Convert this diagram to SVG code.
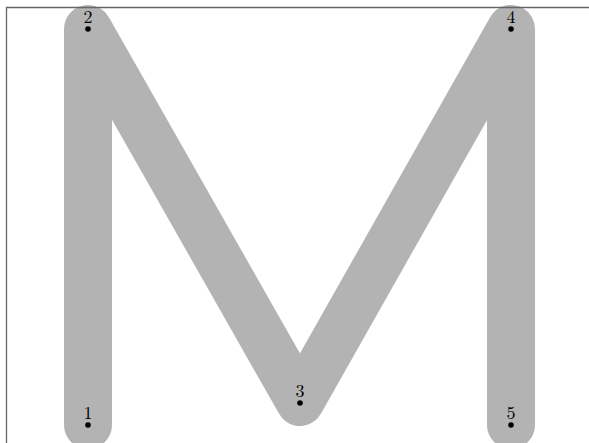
<svg xmlns="http://www.w3.org/2000/svg" width="589" height="443" viewBox="0 0 589 443">
<style>
.lbl{font-family:"Latin Modern Roman","Liberation Serif",serif;font-size:18px;fill:#000;text-anchor:middle}
.dot{fill:#000}
</style>
<rect width="589" height="443" fill="#fff"/>
<g id="connectors">
<path d="M88,425 L88,29 L300,402 L511,29 L511,425" fill="none" stroke="#b3b3b3" stroke-width="48" stroke-linecap="round" stroke-linejoin="round"/>
</g>
<path d="M6.5,443 V7.5 H589" fill="none" stroke="#666" stroke-width="1.3"/>
<g id="n1"><circle class="dot" cx="88" cy="425" r="2.8"/><text class="lbl" x="88" y="419">1</text></g>
<g id="n2"><circle class="dot" cx="88" cy="29" r="2.8"/><text class="lbl" x="88" y="23">2</text></g>
<g id="n3"><circle class="dot" cx="300" cy="403" r="2.8"/><text class="lbl" x="300" y="397">3</text></g>
<g id="n4"><circle class="dot" cx="511" cy="29" r="2.8"/><text class="lbl" x="511" y="23">4</text></g>
<g id="n5"><circle class="dot" cx="511" cy="425" r="2.8"/><text class="lbl" x="511" y="419">5</text></g>
</svg>
